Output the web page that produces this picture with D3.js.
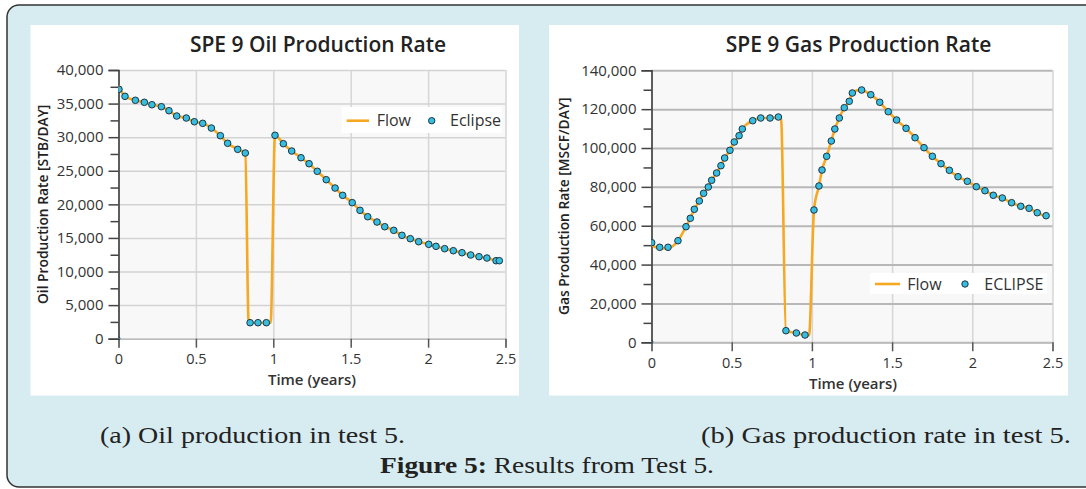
<!DOCTYPE html>
<html><head><meta charset="utf-8">
<script src="https://cdn.jsdelivr.net/npm/d3@7/dist/d3.min.js"></script>
<style>
html,body{margin:0;padding:0;background:#fff;overflow:hidden;}
svg{display:block;}
</style></head>
<body>
<svg id="c" width="1086" height="489"></svg>
<script>
// ---------- DATA ----------
const xTicks = [0, 0.5, 1, 1.5, 2, 2.5];
const oilYTicks = [0, 5000, 10000, 15000, 20000, 25000, 30000, 35000, 40000];
const gasYTicks = [0, 20000, 40000, 60000, 80000, 100000, 120000, 140000];

const oilEclipseT = [0, 0.003, 0.042, 0.109, 0.167, 0.216, 0.277, 0.326, 0.376, 0.438, 0.490, 0.544, 0.600, 0.658, 0.705, 0.770, 0.819, 0.850, 0.901, 0.955, 1.011, 1.065, 1.119, 1.179, 1.231, 1.284, 1.342, 1.399, 1.448, 1.510, 1.560, 1.610, 1.670, 1.720, 1.778, 1.831, 1.885, 1.939, 2.004, 2.051, 2.107, 2.163, 2.219, 2.275, 2.329, 2.380, 2.439, 2.460];
const oilEclipseV = [0, 37130, 36080, 35490, 35190, 34830, 34540, 33940, 33150, 32850, 32300, 32060, 31360, 30220, 29090, 28190, 27640, 2380, 2380, 2380, 30280, 29030, 27940, 26940, 26050, 24920, 23670, 22430, 21340, 20250, 19110, 18160, 17370, 16670, 16130, 15390, 14890, 14440, 14050, 13750, 13400, 13100, 12800, 12460, 12210, 12010, 11610, 11610];

const oilFlowT = [0, 0.042, 0.109, 0.167, 0.216, 0.277, 0.326, 0.376, 0.438, 0.490, 0.544, 0.600, 0.658, 0.705, 0.770, 0.819, 0.841, 0.901, 0.983, 1.011, 1.065, 1.119, 1.179, 1.231, 1.284, 1.342, 1.399, 1.448, 1.510, 1.560, 1.610, 1.670, 1.720, 1.778, 1.831, 1.885, 1.939, 2.004, 2.051, 2.107, 2.163, 2.219, 2.275, 2.329, 2.380, 2.439, 2.460];
const oilFlowV = [37700, 36080, 35490, 35190, 34830, 34540, 33940, 33150, 32850, 32300, 32060, 31360, 30220, 29090, 28190, 27640, 2380, 2380, 2380, 30280, 29030, 27940, 26940, 26050, 24920, 23670, 22430, 21340, 20250, 19110, 18160, 17370, 16670, 16130, 15390, 14890, 14440, 14050, 13750, 13400, 13100, 12800, 12460, 12210, 12010, 11610, 11500];

const gasEclipseT = [0, 0.001, 0.051, 0.103, 0.165, 0.215, 0.242, 0.267, 0.298, 0.325, 0.354, 0.375, 0.406, 0.433, 0.456, 0.489, 0.516, 0.546, 0.566, 0.631, 0.681, 0.739, 0.791, 0.838, 0.903, 0.957, 1.013, 1.044, 1.063, 1.092, 1.121, 1.143, 1.171, 1.202, 1.233, 1.252, 1.310, 1.367, 1.423, 1.476, 1.528, 1.587, 1.643, 1.699, 1.751, 1.805, 1.857, 1.911, 1.969, 2.025, 2.079, 2.131, 2.187, 2.245, 2.302, 2.354, 2.405, 2.460];
const gasEclipseV = [0, 51260, 48900, 48900, 52290, 59500, 63820, 68460, 72730, 76690, 79930, 83380, 87140, 90900, 94860, 98820, 103100, 106340, 109790, 114060, 115450, 115450, 115960, 5970, 4790, 3760, 68100, 80450, 88680, 95730, 103610, 109790, 115450, 120750, 124040, 128310, 129860, 127440, 123530, 118690, 114420, 110150, 105310, 100160, 95730, 91930, 88530, 85230, 82870, 80090, 78030, 75660, 74270, 71850, 70000, 68970, 66700, 65160];

const gasFlowT = [0, 0.051, 0.103, 0.165, 0.215, 0.242, 0.267, 0.298, 0.325, 0.354, 0.375, 0.406, 0.433, 0.456, 0.489, 0.516, 0.546, 0.566, 0.631, 0.681, 0.739, 0.807, 0.838, 0.903, 0.982, 1.013, 1.044, 1.063, 1.092, 1.121, 1.143, 1.171, 1.202, 1.233, 1.252, 1.300, 1.367, 1.423, 1.476, 1.528, 1.587, 1.643, 1.699, 1.751, 1.805, 1.857, 1.911, 1.969, 2.025, 2.079, 2.131, 2.187, 2.245, 2.302, 2.354, 2.405, 2.460];
const gasFlowV = [50000, 48300, 48400, 52290, 59500, 63820, 68460, 72730, 76690, 79930, 83380, 87140, 90900, 94860, 98820, 103100, 106340, 109790, 114060, 115450, 115450, 115960, 5970, 4790, 3500, 68100, 80450, 88680, 95730, 103610, 109790, 115450, 120750, 124040, 128310, 129900, 127440, 123530, 118690, 114420, 110150, 105310, 100160, 95730, 91930, 88530, 85230, 82870, 80090, 78030, 75660, 74270, 71850, 70000, 68970, 66700, 64600];

const titles = ["SPE 9 Oil Production Rate", "SPE 9 Gas Production Rate"];
const yLabels = ["Oil Production Rate [STB/DAY]", "Gas Production Rate [MSCF/DAY]"];
const xLabel = "Time (years)";
const legendNames = [["Flow", "Eclipse"], ["Flow", "ECLIPSE"]];
const captions = ["(a) Oil production in test 5.", "(b) Gas production rate in test 5."];
const figLabel = "Figure 5:";
const figText = " Results from Test 5.";

// ---------- DRAW ----------
const svg = d3.select("#c");
const FONT = "'Open Sans', 'Noto Sans', sans-serif";
const ORANGE = "#f7a823";
const MFILL = "#36bde0";
const MSTROKE = "#1b3646";

// outer figure frame (right side runs off the image)
svg.append("rect").attr("x", 7).attr("y", 5).attr("width", 1120).attr("height", 482)
  .attr("rx", 12).attr("fill", "#d7ecf1").attr("stroke", "#333").attr("stroke-width", 1.5);

const panels = [
  {px: 30.5, pw: 488.5, x0: 118.5, x1: 505.5, y0: 338.7, y1: 70, maxY: 40000, yTicks: oilYTicks, minorStep: 2500,
   titleX: 318, yLabX: 43, xLabX: 312, xLabY: 385, gridH: "#d3d3d3", gridHW: 1.5,
   eclT: oilEclipseT, eclV: oilEclipseV, flowT: oilFlowT, flowV: oilFlowV,
   leg: {x: 341.7, y: 107, w: 160, h: 26, lx0: 346.7, lx1: 369, ly: 120.7, tx1: 376.7, mx: 431.7, tx2: 450}},
  {px: 549, pw: 519, x0: 651.5, x1: 1052.5, y0: 342.3, y1: 70.3, maxY: 140000, yTicks: gasYTicks, minorStep: 10000,
   titleX: 858.5, yLabX: 564, xLabX: 853, xLabY: 389, gridH: "#b8b8b8", gridHW: 2,
   eclT: gasEclipseT, eclV: gasEclipseV, flowT: gasFlowT, flowV: gasFlowV,
   leg: {x: 870, y: 273, w: 177, h: 21, lx0: 875, lx1: 900, ly: 284, tx1: 907.3, mx: 965, tx2: 984.3}}
];

panels.forEach((p, i) => {
  const g = svg.append("g");
  g.append("rect").attr("x", p.px).attr("y", 25).attr("width", p.pw).attr("height", 370.5).attr("fill", "#fff");

  const x = d3.scaleLinear().domain([0, 2.5]).range([p.x0, p.x1]);
  const y = d3.scaleLinear().domain([0, p.maxY]).range([p.y0, p.y1]);

  g.append("rect").attr("x", p.x0).attr("y", p.y1).attr("width", p.x1 - p.x0).attr("height", p.y0 - p.y1).attr("fill", "#f8f8f8");

  const vg = g.append("g").attr("transform", `translate(0,${p.y0})`)
    .call(d3.axisBottom(x).tickValues(xTicks).tickSize(-(p.y0 - p.y1)).tickFormat(""));
  vg.select(".domain").remove();
  vg.selectAll("line").attr("stroke", "#d6d6d6").attr("stroke-width", 1.5);
  const hg = g.append("g").attr("transform", `translate(${p.x0},0)`)
    .call(d3.axisLeft(y).tickValues(p.yTicks).tickSize(-(p.x1 - p.x0)).tickFormat(""));
  hg.select(".domain").remove();
  hg.selectAll("line").attr("stroke", p.gridH).attr("stroke-width", p.gridHW);

  const xa = g.append("g").attr("transform", `translate(0,${p.y0})`)
    .call(d3.axisBottom(x).tickValues(xTicks).tickSize(9).tickPadding(6).tickFormat(d3.format("")));
  xa.select(".domain").attr("stroke", "#bbb").attr("stroke-width", 1.5);
  xa.selectAll("line").attr("stroke", "#555").attr("stroke-width", 1.5);
  xa.selectAll("text").attr("font-family", FONT).attr("font-size", 14.5).attr("fill", "#333");

  const minor = d3.range(0, p.maxY + 1, p.minorStep).filter(v => !p.yTicks.includes(v));
  const ym = g.append("g").attr("transform", `translate(${p.x0},0)`)
    .call(d3.axisLeft(y).tickValues(minor).tickSize(8).tickFormat(""));
  ym.select(".domain").remove();
  ym.selectAll("line").attr("stroke", "#444").attr("stroke-width", 1.5);
  const ya = g.append("g").attr("transform", `translate(${p.x0},0)`)
    .call(d3.axisLeft(y).tickValues(p.yTicks).tickSize(10).tickPadding(5).tickFormat(d3.format(",")));
  ya.select(".domain").attr("stroke", "#333").attr("stroke-width", 1.5);
  ya.selectAll("line").attr("stroke", "#444").attr("stroke-width", 1.5);
  ya.selectAll("text").attr("font-family", FONT).attr("font-size", 15).attr("fill", "#333");

  const cid = "clip" + i;
  svg.append("clipPath").attr("id", cid).append("rect")
    .attr("x", p.x0).attr("y", p.y1 - 5).attr("width", p.x1 - p.x0 + 5).attr("height", p.y0 - p.y1 + 5);

  const flowData = p.flowT.map((t, k) => [t, p.flowV[k]]);
  g.append("path").datum(flowData).attr("clip-path", `url(#${cid})`)
    .attr("fill", "none").attr("stroke", ORANGE).attr("stroke-width", 2.6).attr("stroke-linejoin", "round")
    .attr("d", d3.line().x(d => x(d[0])).y(d => y(d[1])).curve(d3.curveMonotoneX));

  const eclData = p.eclT.map((t, k) => [t, p.eclV[k]]);
  g.append("g").attr("clip-path", `url(#${cid})`).selectAll("circle").data(eclData).join("circle")
    .attr("cx", d => x(d[0])).attr("cy", d => y(d[1])).attr("r", d => d[1] === 0 ? 1.6 : 3.3)
    .attr("fill", MFILL).attr("stroke", MSTROKE).attr("stroke-width", 1);

  g.append("text").attr("x", p.titleX).attr("y", 52).attr("text-anchor", "middle")
    .attr("font-family", FONT).attr("font-weight", 600).attr("font-size", 21).attr("fill", "#222").text(titles[i]);
  g.append("text").attr("x", p.xLabX).attr("y", p.xLabY).attr("text-anchor", "middle")
    .attr("font-family", FONT).attr("font-weight", 600).attr("font-size", 15).attr("fill", "#333").text(xLabel);
  g.append("text").attr("transform", `translate(${p.yLabX},${(p.y0 + p.y1) / 2}) rotate(-90)`)
    .attr("text-anchor", "middle").attr("dy", "0.35em")
    .attr("font-family", FONT).attr("font-weight", 600).attr("font-size", 13.8).attr("fill", "#222").text(yLabels[i]);

  const L = p.leg;
  g.append("rect").attr("x", L.x).attr("y", L.y).attr("width", L.w).attr("height", L.h).attr("fill", "#fff");
  g.append("line").attr("x1", L.lx0).attr("x2", L.lx1).attr("y1", L.ly).attr("y2", L.ly)
    .attr("stroke", ORANGE).attr("stroke-width", 2.6);
  g.append("text").attr("x", L.tx1).attr("y", L.ly).attr("dy", "0.35em")
    .attr("font-family", FONT).attr("font-size", 16).attr("fill", "#333").text(legendNames[i][0]);
  g.append("circle").attr("cx", L.mx).attr("cy", L.ly).attr("r", 3.2)
    .attr("fill", MFILL).attr("stroke", MSTROKE).attr("stroke-width", 1);
  g.append("text").attr("x", L.tx2).attr("y", L.ly).attr("dy", "0.35em")
    .attr("font-family", FONT).attr("font-size", 16).attr("fill", "#333").text(legendNames[i][1]);
});

const SERIF = "'Liberation Serif', 'DejaVu Serif', serif";
svg.append("text").attr("x", 100).attr("y", 442.5).attr("font-family", SERIF).attr("font-size", 24)
  .attr("fill", "#222").attr("textLength", 305).attr("lengthAdjust", "spacingAndGlyphs").text(captions[0]);
svg.append("text").attr("x", 1071).attr("y", 442.5).attr("text-anchor", "end").attr("font-family", SERIF).attr("font-size", 24)
  .attr("fill", "#222").attr("textLength", 370).attr("lengthAdjust", "spacingAndGlyphs").text(captions[1]);
const ft = svg.append("text").attr("x", 380).attr("y", 473).attr("font-family", SERIF).attr("font-size", 24)
  .attr("fill", "#222").attr("textLength", 334).attr("lengthAdjust", "spacingAndGlyphs");
ft.append("tspan").attr("font-weight", "bold").text(figLabel);
ft.append("tspan").text(figText);
</script>
</body></html>
